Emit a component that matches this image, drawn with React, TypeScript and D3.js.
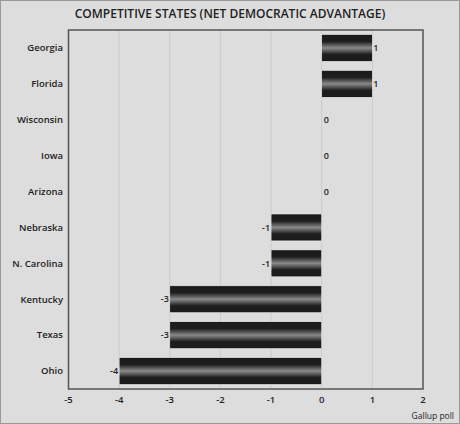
import React from "react";
import * as d3 from "d3";

const states = ["Georgia", "Florida", "Wisconsin", "Iowa", "Arizona", "Nebraska", "N. Carolina", "Kentucky", "Texas", "Ohio"];
const values = [1, 1, 0, 0, 0, -1, -1, -3, -3, -4];
const xTicks = [-5, -4, -3, -2, -1, 0, 1, 2];
const title = "COMPETITIVE STATES (NET DEMOCRATIC ADVANTAGE)";
const source = "Gallup poll";

const W = 460, H = 424;
const m = { left: 68.5, right: 37, top: 30, bottom: 35 };
const FONT = "'Open Sans', sans-serif";

export default function App() {
  const x = d3.scaleLinear().domain([-5, 2]).range([m.left, W - m.right]);
  const y = d3.scaleBand<string>().domain(states).range([m.top, H - m.bottom]).paddingInner(0.25).paddingOuter(0.125);
  return (
    <div style={{ position: "absolute", left: 0, top: 0 }}>
      <svg width={W} height={H} style={{ display: "block", fontFamily: FONT }}>
        <defs>
          <linearGradient id="barg" x1="0" y1="0" x2="0" y2="1">
            <stop offset="0" stopColor="#1a1a1a" />
            <stop offset="0.26" stopColor="#1e1e1e" />
            <stop offset="0.5" stopColor="#8a8a8a" />
            <stop offset="0.74" stopColor="#1e1e1e" />
            <stop offset="1" stopColor="#1a1a1a" />
          </linearGradient>
        </defs>
        <rect x={0.5} y={0.5} width={W - 1} height={H - 1} fill="#dddddd" stroke="#9a9a9a" />
        <text x={W / 2} y={18} textAnchor="middle" fontSize={12} fontWeight={600} fill="#222">{title}</text>
        {xTicks.map(t => (
          <line key={t} x1={x(t)} x2={x(t)} y1={m.top} y2={H - m.bottom} stroke="#cbcbcb" strokeWidth={1} />
        ))}
        {states.map((s, i) => {
          const v = values[i];
          const y0 = y(s)!;
          const bh = y.bandwidth();
          const x0 = Math.min(x(0), x(v));
          const w = Math.abs(x(v) - x(0));
          const cy = y0 + bh / 2;
          return (
            <g key={s}>
              <text x={63} y={cy} dy="0.35em" textAnchor="end" fontSize={9.5} fontWeight={600} fill="#222">{s}</text>
              {w > 0 && <rect x={x0} y={y0} width={w} height={bh} fill="url(#barg)" stroke="#f0f0f0" strokeWidth={0.6} />}
              <text x={v > 0 ? x(v) + 1 : v < 0 ? x(v) - 1 : x(0) + 2} y={cy} dy="0.35em" textAnchor={v < 0 ? "end" : "start"} fontSize={9} fontWeight={600} fill="#222">{v}</text>
            </g>
          );
        })}
        <rect x={m.left} y={m.top} width={W - m.left - m.right} height={H - m.top - m.bottom} fill="none" stroke="#555" strokeWidth={1.5} />
        {xTicks.map(t => (
          <text key={t} x={x(t)} y={403} textAnchor="middle" fontSize={9.5} fontWeight={600} fill="#222">{t}</text>
        ))}
        <text x={454} y={419} textAnchor="end" fontSize={8.5} fill="#222">{source}</text>
      </svg>
    </div>
  );
}
